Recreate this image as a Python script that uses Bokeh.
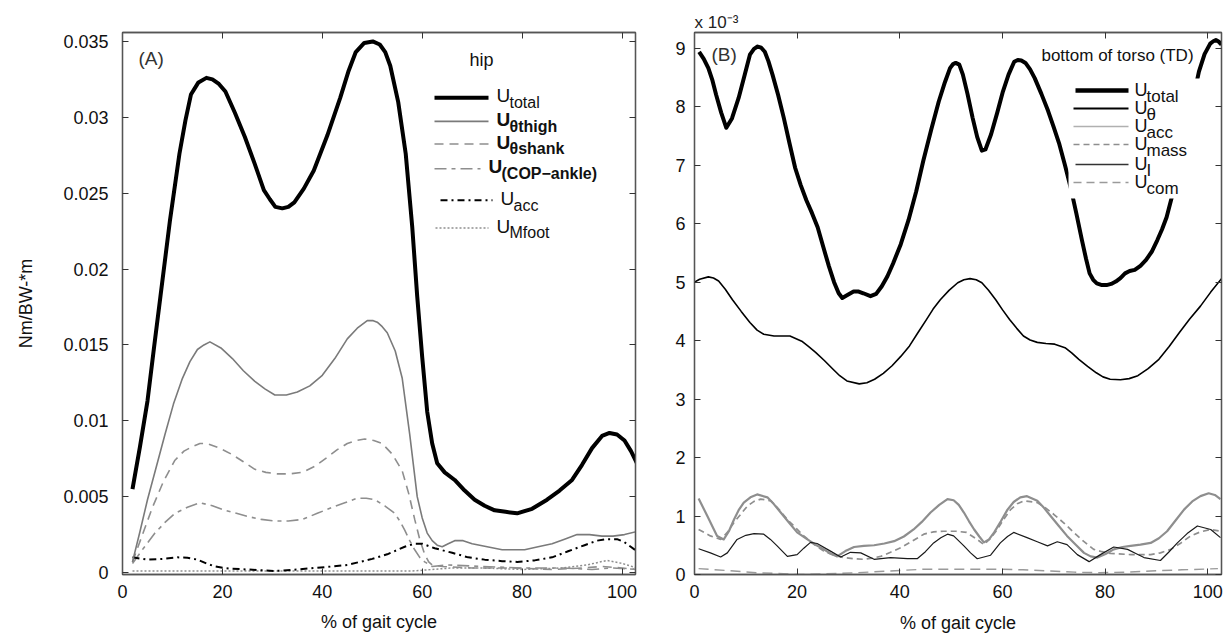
from bokeh.plotting import figure
from bokeh.layouts import row
from bokeh.models import Range1d, FixedTicker, LinearAxis, Label, BoxAnnotation, Title
from bokeh.embed import file_html
from bokeh.resources import INLINE

FONT = "Liberation Sans"

# ---------------- Panel A (hip) ----------------
xA_total = [2, 3.5, 5, 6.3, 7.6, 9.5, 11.4, 12.6, 13.7, 15.2, 16.8, 18, 19.3, 20.6, 22.5, 24.5, 26.4, 28.3,
            29.5, 30.6, 32, 33.2, 34.4, 36.3, 38.3, 41, 43.6, 45.2, 46.7, 48.4, 50.1, 51.5, 52.6, 53.6, 55.2,
            56.7, 58, 59, 60, 61, 62, 63, 64.5, 66.5, 68.5, 70.5, 72.5, 74.5, 76.7, 79, 82, 85, 87.5, 90, 92,
            94, 96, 97.5, 99, 100.5, 101.8, 103]
A_total = [0.0055, 0.0083, 0.0113, 0.0148, 0.0182, 0.0232, 0.0276, 0.0298, 0.0315, 0.0323, 0.0326, 0.0325,
           0.0322, 0.0317, 0.0303, 0.0287, 0.0270, 0.0252, 0.0246, 0.0241, 0.0240, 0.0241, 0.0244, 0.0253,
           0.0265, 0.0288, 0.0313, 0.0330, 0.0343, 0.0349, 0.0350, 0.0348, 0.0343, 0.0334, 0.0310, 0.0276,
           0.0228, 0.0182, 0.0142, 0.0106, 0.0085, 0.0072, 0.0066, 0.0061, 0.0054, 0.0048, 0.0044, 0.0041,
           0.0040, 0.0039, 0.0042, 0.0048, 0.0054, 0.0061, 0.0071, 0.0082, 0.0090, 0.0092, 0.0091, 0.0087,
           0.0080, 0.0072]

xA_thigh = [2, 3.5, 5, 6.8, 8.5, 10.2, 12, 13.5, 15, 16.3, 17.5, 19.7, 22, 24.2, 26.5, 28.5, 30.5, 32.8, 35,
            37.5, 40, 42.5, 45, 47, 49, 50.2, 51, 52, 53, 54.6, 56, 57.5, 59, 60, 61, 62, 63, 64, 65.2, 66.5,
            68.2, 70, 73, 76, 78.2, 80.5, 83.2, 86, 88.5, 91, 93.5, 96, 98.2, 100.5, 103]
A_thigh = [0.0007, 0.0027, 0.0048, 0.0070, 0.0091, 0.0111, 0.0128, 0.0139, 0.0147, 0.0150, 0.0152, 0.0148,
           0.0141, 0.0133, 0.0126, 0.0121, 0.0117, 0.0117, 0.0119, 0.0123, 0.0130, 0.0141, 0.0154, 0.0161,
           0.0166, 0.0166, 0.0165, 0.0162, 0.0158, 0.0146, 0.0128, 0.0091, 0.0050, 0.0036, 0.0026, 0.0021,
           0.0018, 0.0017, 0.0019, 0.0021, 0.0021, 0.0019, 0.0017, 0.0015, 0.0015, 0.0015, 0.0017, 0.0019,
           0.0022, 0.0025, 0.0025, 0.0024, 0.0024, 0.0025, 0.0027]

xA_shank = [2, 4, 6, 8.2, 10.5, 12.3, 14, 15.5, 17, 19.4, 21.8, 24.2, 26.5, 28.7, 31, 33.5, 36, 38.5, 41, 43,
            45, 46.8, 48.5, 50.3, 52, 54, 56, 57.3, 58.5, 59.5, 60.5, 61.3, 62, 64, 70, 78, 86, 92, 96, 100,
            103]
A_shank = [0.0007, 0.0025, 0.0043, 0.0060, 0.0074, 0.0080, 0.0083, 0.0085, 0.0085, 0.0082, 0.0078, 0.0073,
           0.0068, 0.0066, 0.0065, 0.0065, 0.0066, 0.0070, 0.0076, 0.0081, 0.0085, 0.0087, 0.0088, 0.0087,
           0.0085, 0.0078, 0.0067, 0.0052, 0.0035, 0.0022, 0.0012, 0.0007, 0.0005, 0.0004, 0.0003, 0.0003,
           0.0002, 0.0003, 0.0004, 0.0003, 0.0002]

xA_cop = [2, 4.2, 6.5, 8.5, 10.5, 13, 15.5, 18, 20.5, 22.8, 25, 27.8, 30.5, 33.2, 36, 39, 42, 44.5, 47, 48.8,
          50.5, 52.5, 54.5, 55.5, 56.5, 57.5, 58.5, 59.5, 60.5, 62, 65, 72, 80, 88, 94, 98, 103]
A_cop = [0.0006, 0.0016, 0.0026, 0.0033, 0.0039, 0.0043, 0.0046, 0.0044, 0.0041, 0.0039, 0.0037, 0.0035,
         0.0034, 0.0034, 0.0035, 0.0039, 0.0043, 0.0046, 0.0049, 0.0049, 0.0048, 0.0044, 0.0039, 0.0034,
         0.0028, 0.0021, 0.0015, 0.0010, 0.0007, 0.0004, 0.0005, 0.0004, 0.0003, 0.0003, 0.0002, 0.0003,
         0.0002]

xA_acc = [2, 5, 8, 11, 13, 15, 16.8, 18.5, 20.2, 22, 25, 30.5, 35, 38.5, 42, 45, 47.5, 50, 53, 56.5, 58.5, 60,
          62.5, 66, 69.2, 72.5, 76, 79, 82.5, 86, 89.2, 92.5, 95, 97, 99, 100.5, 103]
A_acc = [0.0010, 0.00085, 0.0009, 0.0010, 0.00098, 0.00085, 0.0006, 0.0004, 0.0003, 0.00025, 0.0002, 0.0001,
         0.0002, 0.0003, 0.0004, 0.0005, 0.0007, 0.0009, 0.0012, 0.0017, 0.0019, 0.0019, 0.0016, 0.0013,
         0.0010, 0.00085, 0.00075, 0.0007, 0.0008, 0.0010, 0.0014, 0.0018, 0.0021, 0.0022, 0.0022, 0.0020,
         0.0014]

xA_mfoot = [2, 20, 40, 58, 62, 66, 72, 80, 88, 93, 97, 100, 103]
A_mfoot = [0.0001, 0.0001, 0.0001, 0.0001, 0.0002, 0.0003, 0.0003, 0.0002, 0.0003, 0.0005, 0.0008, 0.0006,
           0.0003]

A_xticks = [0, 20, 40, 60, 80, 100]
A_yticks = [0, 0.005, 0.01, 0.015, 0.02, 0.025, 0.03, 0.035]
A_ylabels = ["0", "0.005", "0.01", "0.015", "0.02", "0.025", "0.03", "0.035"]

# ---------------- Panel B (bottom of torso), units of 1e-3 ----------------
xB_total = [0.9, 1.8, 2.7, 3.5, 4.2, 5.2, 6.2, 7.3, 8.6, 9.8, 10.8, 11.6, 12.3, 13.0, 13.7, 14.4, 15.2,
            16.3, 17.4, 18.5, 19.6, 20.7, 21.8, 22.9, 24.0, 25.1, 26.2, 27.2, 28.1, 28.8, 29.8, 31.0, 32.0,
            32.9, 34.3, 35.4, 36.5, 37.6, 38.7, 40.2, 41.7, 43.2, 44.6, 46.1, 47.6, 48.8, 49.8, 50.4, 50.9,
            51.6, 52.3, 53.2, 54.2, 55.1, 56.0, 56.7, 57.8, 59.0, 60.1, 61.2, 62.3, 63.0, 63.7, 64.5, 65.4,
            66.3, 67.6, 68.9, 70.0, 71.1, 72.2, 73.3, 74.4, 75.5, 76.3, 77.0, 77.7, 78.4, 79.4, 80.3, 81.2,
            82.1, 83.0, 83.9, 84.8, 85.8, 86.9, 88.0, 89.1, 90.2, 91.1, 92.0, 93, 94, 95, 96, 97.2, 98.3,
            99.4, 100.5, 101.1, 101.6, 102.2, 102.7]
B_total = [8.94, 8.82, 8.66, 8.45, 8.21, 7.90, 7.64, 7.80, 8.15, 8.55, 8.89, 8.99, 9.03, 9.01, 8.94, 8.78,
           8.55, 8.20, 7.81, 7.38, 6.96, 6.66, 6.40, 6.18, 5.94, 5.60, 5.27, 5.00, 4.81, 4.73, 4.78, 4.84,
           4.84, 4.81, 4.76, 4.80, 4.93, 5.10, 5.32, 5.65, 6.06, 6.55, 7.08, 7.60, 8.09, 8.42, 8.66, 8.73,
           8.75, 8.72, 8.55, 8.22, 7.81, 7.48, 7.25, 7.27, 7.53, 7.90, 8.26, 8.55, 8.77, 8.80, 8.79, 8.75,
           8.64, 8.49, 8.22, 7.93, 7.65, 7.36, 7.00, 6.62, 6.18, 5.72, 5.40, 5.15, 5.04, 4.98, 4.95, 4.95,
           4.97, 5.01, 5.07, 5.15, 5.19, 5.21, 5.28, 5.38, 5.52, 5.72, 5.90, 6.11, 6.45, 6.9, 7.3, 7.7, 8.15,
           8.60, 8.90, 9.08, 9.12, 9.14, 9.11, 9.06]

xB_theta = [0, 1, 2.7, 3.7, 4.7, 6.0, 7.4, 9.1, 10.8, 12.2, 13.5, 15.5, 17.0, 18.6, 20.9, 22.2, 23.6, 25.3,
            27.0, 28.3, 29.7, 32.1, 33.6, 35.1, 36.8, 38.5, 40.2, 41.9, 43.5, 45.2, 46.5, 47.9, 49.6, 51.3,
            52.5, 53.7, 54.9, 56.0, 57.3, 58.7, 60.0, 61.4, 62.8, 64.1, 65.4, 66.8, 68.5, 70.2, 72.2, 73.5,
            74.9, 76.6, 78.3, 79.6, 81.0, 83.0, 84.7, 86.4, 88.4, 90.5, 92.5, 94.5, 96.5, 98.6, 100.6, 102.7]
B_theta = [5.0, 5.05, 5.09, 5.07, 5.02, 4.88, 4.70, 4.50, 4.31, 4.18, 4.11, 4.08, 4.08, 4.08, 3.99, 3.90,
           3.80, 3.66, 3.51, 3.40, 3.31, 3.26, 3.28, 3.34, 3.44, 3.57, 3.73, 3.91, 4.13, 4.36, 4.54, 4.70,
           4.86, 4.99, 5.04, 5.06, 5.04, 4.99, 4.86, 4.70, 4.53, 4.36, 4.21, 4.08, 4.01, 3.97, 3.95, 3.94,
           3.88, 3.79, 3.68, 3.56, 3.45, 3.38, 3.34, 3.33, 3.35, 3.40, 3.52, 3.68, 3.90, 4.14, 4.37, 4.59,
           4.83, 5.06]

xB_acc = [0.8, 2.5, 4.4, 5.7, 6.7, 7.7, 8.6, 9.6, 10.9, 12.2, 14.2, 15.5, 16.8, 18.4, 20.0, 22.0, 23.6, 25.2,
          26.5, 27.8, 29.4, 31.1, 33.0, 35.0, 37.0, 38.9, 40.8, 42.7, 44.3, 46.0, 47.7, 49.3, 50.5, 51.5,
          52.5, 53.5, 54.5, 55.5, 56.4, 57.4, 58.4, 59.7, 61.0, 62.2, 63.5, 64.8, 66.8, 68.1, 69.4, 71.0,
          72.6, 74.3, 75.9, 77.2, 78.5, 80.1, 81.7, 83.4, 85.0, 86.9, 88.9, 90.5, 92.1, 93.7, 95.4, 97.0,
          98.6, 100.2, 101.4, 102.5]
B_acc = [1.30, 1.00, 0.66, 0.60, 0.74, 0.94, 1.10, 1.23, 1.32, 1.37, 1.32, 1.20, 1.06, 0.89, 0.72, 0.60,
         0.51, 0.43, 0.36, 0.31, 0.40, 0.47, 0.49, 0.50, 0.53, 0.57, 0.65, 0.77, 0.90, 1.06, 1.19, 1.29,
         1.27, 1.19, 1.06, 0.91, 0.77, 0.65, 0.55, 0.60, 0.72, 0.91, 1.11, 1.24, 1.32, 1.34, 1.26, 1.14,
         1.00, 0.83, 0.66, 0.51, 0.37, 0.31, 0.29, 0.35, 0.43, 0.47, 0.49, 0.51, 0.54, 0.62, 0.74, 0.92,
         1.11, 1.25, 1.34, 1.39, 1.36, 1.29]

xB_mass = [0.8, 3.1, 5.1, 6.4, 7.7, 9.0, 10.3, 11.6, 12.9, 14.9, 16.5, 18.1, 19.7, 21.3, 23.2, 25.2, 27.2,
           29.1, 31.0, 33.0, 34.6, 36.3, 38.2, 40.2, 42.4, 44.7, 46.6, 48.6, 51, 53, 55.1, 56.4, 57.7, 59.0,
           60.3, 61.6, 62.9, 64.2, 66.8, 68.4, 70.0, 72.0, 73.9, 75.8, 77.8, 79.4, 81.1, 85.0, 88.9, 90.8,
           92.8, 94.8, 96.7, 98.6, 100.6, 102.5]
B_mass = [0.77, 0.66, 0.60, 0.72, 0.89, 1.03, 1.17, 1.25, 1.29, 1.26, 1.11, 0.94, 0.80, 0.66, 0.52, 0.40,
          0.33, 0.29, 0.27, 0.26, 0.28, 0.31, 0.38, 0.46, 0.57, 0.69, 0.73, 0.74, 0.74, 0.72, 0.60, 0.51,
          0.62, 0.77, 0.95, 1.11, 1.21, 1.26, 1.23, 1.14, 1.03, 0.88, 0.72, 0.57, 0.43, 0.39, 0.36, 0.34,
          0.34, 0.37, 0.43, 0.54, 0.66, 0.73, 0.77, 0.74]

xB_I = [0.8, 3.1, 5.1, 6.4, 8.3, 10.0, 11.6, 13.5, 14.8, 16.1, 18.1, 20.0, 21.3, 22.6, 23.9, 26.5, 28.5, 30.4,
        32.4, 35.0, 38.2, 41.5, 43.4, 45.0, 46.6, 48.0, 49.3, 50.5, 52.5, 53.8, 55.1, 57.7, 59.6, 61.0, 62.2,
        64.8, 66.8, 68.8, 70.7, 72.6, 74.6, 76.9, 79.1, 81.7, 84.4, 86.0, 87.6, 90.8, 92.4, 94.1, 96.0, 98.0,
        100.6, 102.5]
B_I = [0.44, 0.37, 0.30, 0.37, 0.60, 0.67, 0.70, 0.69, 0.60, 0.49, 0.31, 0.34, 0.45, 0.55, 0.53, 0.40,
       0.30, 0.38, 0.37, 0.26, 0.29, 0.27, 0.27, 0.39, 0.54, 0.63, 0.69, 0.66, 0.49, 0.37, 0.27, 0.33,
       0.54, 0.65, 0.72, 0.63, 0.56, 0.49, 0.56, 0.51, 0.34, 0.22, 0.34, 0.47, 0.43, 0.36, 0.29, 0.24,
       0.38, 0.54, 0.70, 0.83, 0.77, 0.63]

xB_com = [0.8, 6, 12, 16, 20, 25, 31.6, 38, 44.7, 50, 55, 59.6, 64, 69.4, 74, 79, 84, 88.9, 95, 102]
B_com = [0.10, 0.07, 0.03, 0.02, 0.0, 0.01, 0.03, 0.06, 0.09, 0.09, 0.09, 0.09, 0.08, 0.06, 0.04, 0.03,
         0.04, 0.06, 0.08, 0.10]

B_xticks = [0, 20, 40, 60, 80, 100]
B_yticks = [0, 1, 2, 3, 4, 5, 6, 7, 8, 9]

# ---------------- layout constants (page pixels; bokeh page has no body margin) ----------------
A_FL, A_FR, A_FT, A_FB = 122, 635, 25, 574
A_X = (0, 102.7)
A_Y = (-0.00013, 0.03559)
B_FL, B_FR, B_FT, B_FB = 694, 1221, 32, 574
B_X = (0, 102.7)
B_Y = (0, 9.27)
FIG_TOP, FIG_BOT = 0, 640
SPLIT = 660
PAGE_W = 1231


def mapper(FL, FR, FT, FB, XR, YR):
    def fx(X):
        return XR[0] + (X - FL) * (XR[1] - XR[0]) / (FR - FL)

    def fy(Y):
        return YR[0] + (FB - Y) * (YR[1] - YR[0]) / (FB - FT)
    return fx, fy


def style_axis(ax, size="18px"):
    ax.major_tick_in = 6
    ax.major_tick_out = 0
    ax.minor_tick_in = 0
    ax.minor_tick_out = 0
    ax.axis_line_color = "#555555"
    ax.axis_line_width = 1.3
    ax.major_tick_line_color = "#333333"
    ax.major_label_text_font = FONT
    ax.major_label_text_font_size = size
    ax.major_label_text_color = "#111111"
    ax.axis_label_text_font = FONT
    ax.axis_label_text_font_size = "18px"
    ax.axis_label_text_font_style = "normal"
    ax.axis_label_text_color = "#111111"


def make_fig(width, XR, YR, bl, br, bt, bb, xticks, yticks):
    p = figure(width=width, height=FIG_BOT - FIG_TOP, x_range=Range1d(*XR), y_range=Range1d(*YR),
               output_backend="svg", toolbar_location=None,
               min_border_left=bl, min_border_right=br, min_border_top=bt, min_border_bottom=bb)
    p.grid.visible = False
    p.outline_line_color = "#555555"
    p.outline_line_width = 1.3
    bottom = p.below[0]
    left = p.left[0]
    for ax in (bottom, left):
        style_axis(ax)
    bottom.ticker = FixedTicker(ticks=xticks)
    left.ticker = FixedTicker(ticks=yticks)
    top = LinearAxis(ticker=FixedTicker(ticks=xticks))
    right = LinearAxis(ticker=FixedTicker(ticks=yticks))
    for ax in (top, right):
        style_axis(ax, size="0px")
        ax.major_label_standoff = 0
        ax.major_label_overrides = {t: "" for t in (xticks if ax is top else yticks)}
    p.add_layout(top, "above")
    p.add_layout(right, "right")
    return p, bottom, left


def label(p, x, y, text, size, align="left", bold=False, color="#111111", font=FONT, bg=None):
    lab = Label(x=x, y=y, text=text, text_font=font, text_font_size=size, text_align=align,
                text_baseline="middle", text_color=color, text_font_style="bold" if bold else "normal")
    if bg is not None:
        lab.background_fill_color = bg
        lab.background_fill_alpha = 1.0
    p.add_layout(lab)
    return lab


# ================= Panel A =================
fxA, fyA = mapper(A_FL, A_FR, A_FT, A_FB, A_X, A_Y)
pA, botA, leftA = make_fig(SPLIT, A_X, A_Y, A_FL, SPLIT - A_FR, A_FT - FIG_TOP, FIG_BOT - A_FB,
                           A_xticks, A_yticks)
leftA.major_label_overrides = {t: s for t, s in zip(A_yticks, A_ylabels)}
leftA.axis_label = "Nm/BW-*m"
leftA.axis_label_standoff = 24
leftA.major_label_standoff = 14
botA.axis_label = "% of gait cycle"
botA.major_label_standoff = 10
botA.axis_label_standoff = 11

GRAY = "#7a7a7a"
LGRAY = "#8e8e8e"
pA.line(xA_mfoot, A_mfoot, line_color=LGRAY, line_width=1.5, line_dash="2 2")
pA.line(xA_cop, A_cop, line_color=LGRAY, line_width=1.6, line_dash="12 5 4 5")
pA.line(xA_shank, A_shank, line_color=LGRAY, line_width=1.6, line_dash="9 6")
pA.line(xA_acc, A_acc, line_color="black", line_width=2, line_dash="7 4 2 4")
pA.line(xA_thigh, A_thigh, line_color=GRAY, line_width=1.6, line_join="round")
pA.line(xA_total, A_total, line_color="black", line_width=4, line_join="round")

label(pA, fxA(138), fyA(51), "(A)", "19px", color="#333333")
label(pA, fxA(481), fyA(53), "hip", "18px", align="center")

legA = [
    (91, 434, 488, "black", 4, "solid", "U", "total", False),
    (115, 434, 488, GRAY, 1.6, "solid", "U", "θthigh", True),
    (138, 434, 488, LGRAY, 1.6, "9 6", "U", "θshank", True),
    (163, 434, 480, LGRAY, 1.6, "12 5 4 5", "U", "(COP−ankle)", True),
    (195, 440, 492, "black", 2, "7 4 2 4", "U", "acc", False),
    (223, 435, 488, LGRAY, 1.5, "2 2", "U", "Mfoot", False),
]
for yl, x0, x1, col, w, dash, main, sub, bold in legA:
    pA.line([fxA(x0), fxA(x1)], [fyA(yl), fyA(yl)], line_color=col, line_width=w, line_dash=dash)
    tx = x1 + 8
    label(pA, fxA(tx), fyA(yl - 2), main, "19px", bold=bold)
    label(pA, fxA(tx + 13), fyA(yl + 5), sub, "16px", bold=bold)

# ================= Panel B =================
fxB, fyB = mapper(B_FL, B_FR, B_FT, B_FB, B_X, B_Y)
pB, botB, leftB = make_fig(PAGE_W - SPLIT, B_X, B_Y, B_FL - SPLIT, PAGE_W - B_FR, B_FT - FIG_TOP,
                           FIG_BOT - B_FB, B_xticks, B_yticks)
botB.axis_label = "% of gait cycle"
botB.major_label_standoff = 10
botB.axis_label_standoff = 12
leftB.major_label_standoff = 9

# exponent note above the frame
pB.add_layout(Title(text="x 10⁻³", align="left", text_font=FONT, text_font_size="17px",
                    text_font_style="normal", text_color="#222222", standoff=1), "above")

pB.line(xB_com, B_com, line_color="#9a9a9a", line_width=1.4, line_dash="10 6")
pB.line(xB_mass, B_mass, line_color=LGRAY, line_width=1.7, line_dash="6 4")
pB.line(xB_acc, B_acc, line_color=LGRAY, line_width=2.2, line_join="round")
pB.line(xB_I, B_I, line_color="#1a1a1a", line_width=1.2, line_join="round")
pB.line(xB_theta, B_theta, line_color="black", line_width=1.6, line_join="round")
pB.line(xB_total, B_total, line_color="black", line_width=4, line_join="round")

pB.add_layout(BoxAnnotation(left=fxB(1068), right=fxB(1200), top=fyB(78), bottom=fyB(198),
                            fill_color="white", fill_alpha=1.0, line_color=None))
label(pB, fxB(1117), fyB(55), "bottom of torso (TD)", "17px", align="center", bg="white")
label(pB, fxB(711), fyB(54), "(B)", "19px", color="#333333")

# stray caption fragment at the lower right of the page (outside the frame)
fi = label(pB, fxB(1210), fyB(621), "fi", "19px", font="Liberation Serif")
if "clip" in Label.properties():
    fi.clip = False

legB = [
    (90, 1075, 1128, "black", 4.5, "solid", "U", "total"),
    (108, 1073, 1128, "black", 2, "solid", "U", "θ"),
    (126, 1073, 1128, "#b0b0b0", 1.6, "solid", "U", "acc"),
    (144, 1073, 1128, LGRAY, 1.6, "6 4", "U", "mass"),
    (164, 1075, 1128, "#333333", 1.6, "solid", "U", "I"),
    (182, 1073, 1128, "#9a9a9a", 1.4, "8 5", "U", "com"),
]
for yl, x0, x1, col, w, dash, main, sub in legB:
    r = pB.line([fxB(x0), fxB(x1)], [fyB(yl), fyB(yl)], line_color=col, line_width=w, line_dash=dash)
    r.level = "overlay"
    label(pB, fxB(1134), fyB(yl - 1), main, "18px")
    label(pB, fxB(1146), fyB(yl + 6), sub, "17px")

layout = row(pA, pB)
open("out.html", "w").write(file_html(layout, INLINE))
